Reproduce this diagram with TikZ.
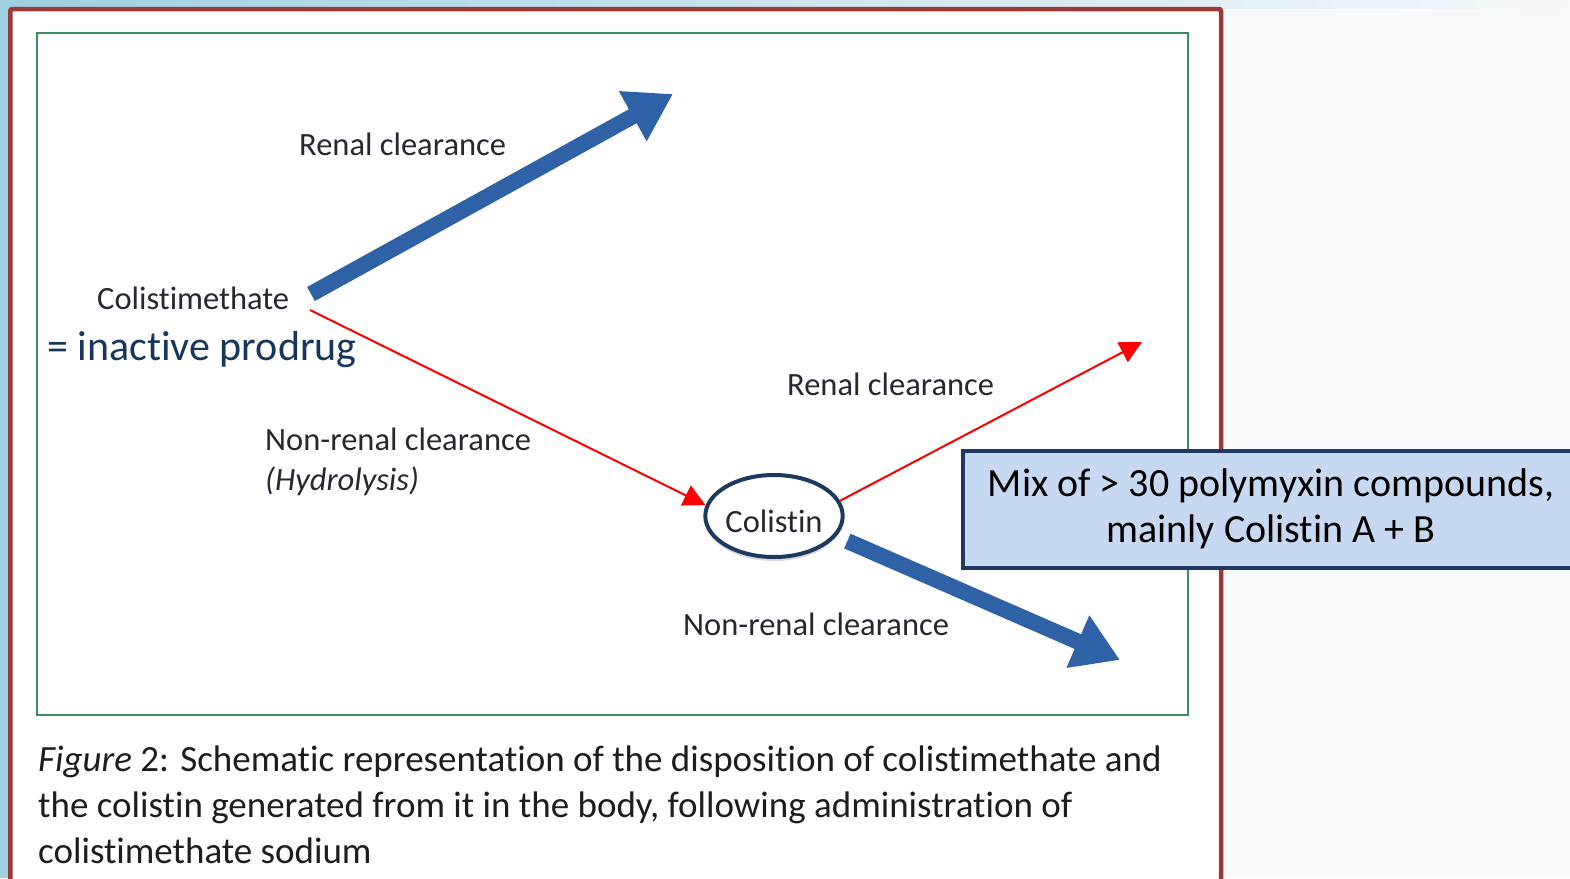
\documentclass[tikz,border=0pt]{standalone}
\usepackage{fontspec}
\setmainfont{Carlito}[Ligatures={NoCommon}]
\usetikzlibrary{arrows.meta,shapes.geometric,shadows}
\definecolor{bgblue}{RGB}{158,208,223}
\definecolor{paper}{RGB}{247,249,251}
\definecolor{frame}{RGB}{155,56,56}
\definecolor{boxgreen}{RGB}{60,140,100}
\definecolor{arrblue}{RGB}{46,97,165}
\definecolor{navy}{RGB}{28,57,94}
\definecolor{boxnavy}{RGB}{31,56,100}
\definecolor{boxfill}{RGB}{198,217,240}
\definecolor{txt}{RGB}{40,38,48}
\definecolor{captxt}{RGB}{30,28,32}
\definecolor{prodcol}{RGB}{23,54,93}
\newcommand\lblfont{\fontsize{32.5}{38}\selectfont}
\newcommand\capfont{\fontsize{37}{46}\selectfont}
\tikzset{
  lbl/.style={anchor=base west, inner sep=0pt, text=txt, font=\lblfont},
  prod/.style={anchor=base west, inner sep=0pt, text=prodcol, font=\fontsize{42}{50}\selectfont},
  capline/.style={anchor=base west, inner sep=0pt, text=captxt, font=\capfont},
  ell/.style={ellipse, draw=navy, line width=4pt, fill=white, minimum width=137pt, minimum height=82pt, inner sep=0pt, text=txt, font=\lblfont,
    text height=32pt, text depth=0pt,
    drop shadow={shadow xshift=0pt, shadow yshift=-4pt, opacity=0.25, fill=black!60}},
  callout/.style={rectangle, draw=boxnavy, line width=4pt, fill=boxfill, minimum width=616pt, minimum height=117pt, inner sep=0pt, align=center, font=\fontsize{40}{46}\selectfont, text=black},
  bluearrow/.style={draw=arrblue, line width=16pt, -{Triangle[length=46pt,width=54pt]}},
  redarrow/.style={draw=red, line width=2pt, -{Triangle[length=22pt,width=22pt]}}
}
\begin{document}
\begin{tikzpicture}[x=1pt,y=-1pt]
\useasboundingbox (0,0) rectangle (1570,878);
\clip (0,0) rectangle (1570,878);
% background
\fill[paper] (0,0) rectangle (1570,878);
\fill[bgblue] (0,0) rectangle (9,878);
\shade[left color=bgblue, right color=paper] (0,0) rectangle (1570,8);
\fill[white] (10,9) rectangle (1221,900);
\draw[frame, line width=4.5pt, rounded corners=2pt] (10.3,900) -- (10.3,9) -- (1221,9) -- (1221,900);
% green figure frame
\draw[boxgreen, line width=2pt] (36.5,32.5) rectangle (1187.5,715);
% labels
\node[lbl] (rc1) at (299,155) {Renal clearance};
\node[lbl] (cm) at (97,309) {Colistimethate};
\node[prod] (prod) at (47,360) {= inactive prodrug};
\node[lbl] (nrc1) at (265,450) {Non-renal clearance};
\node[lbl] (hyd) at (265,490) {\textit{(Hydrolysis)}};
\node[lbl] (rc2) at (787,395) {Renal clearance};
\node[lbl] (nrc2) at (683,635) {Non-renal clearance};
\node[ell] (col) at (774,516) {Colistin};
% arrow ends
\coordinate (t1) at (311,294);
\coordinate (h1) at (673,94);
\coordinate (r1) at (310,310);
\coordinate (h2) at (1142,342);
\coordinate (h3) at (1120,660);
% connectors
\draw[bluearrow] (t1) -- (h1);
\draw[redarrow] (r1) -- (col.171);
\draw[redarrow] (col.13) -- (h2);
\draw[bluearrow, shorten <=12pt] (col.-18) -- (h3);
% callout
\node[callout] (mix) at (1271,509) {Mix of > 30 polymyxin compounds,\\mainly Colistin A + B};
% caption
\node[capline] (cap1) at (38,771) {\textit{Figure} 2: Schematic representation of the disposition of colistimethate and};
\node[capline] (cap2) at (38,817) {the colistin generated from it in the body, following administration of};
\node[capline] (cap3) at (38,863) {colistimethate sodium};
\end{tikzpicture}
\end{document}
